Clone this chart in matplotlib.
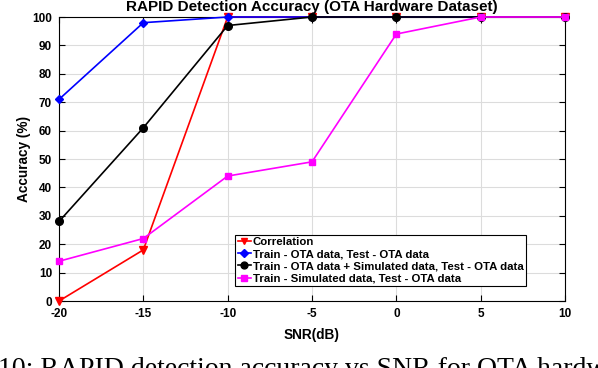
import numpy as np
import matplotlib
matplotlib.use("Agg")
import matplotlib.pyplot as plt

plt.rcParams['font.family'] = ['Liberation Sans', 'DejaVu Sans']
plt.rcParams['font.weight'] = 'bold'
plt.rcParams['axes.unicode_minus'] = False

# Data
snr = [-20, -15, -10, -5, 0, 5, 10]
correlation = [0, 18, 100, 100, 100, 100, 100]
ota_ota = [71, 98, 100, 100, 100, 100, 100]
ota_sim_ota = [28, 61, 97, 100, 100, 100, 100]
sim_ota = [14, 22, 44, 49, 94, 100, 100]

labels = [
    "Correlation",
    "Train - OTA data, Test - OTA data",
    "Train - OTA data + Simulated data, Test - OTA data",
    "Train - Simulated data, Test - OTA data",
]
xticks = [-20, -15, -10, -5, 0, 5, 10]
yticks = [0, 10, 20, 30, 40, 50, 60, 70, 80, 90, 100]

fig = plt.figure(figsize=(5.98, 3.68), dpi=100)
ax = fig.add_axes([59 / 598, 1 - 301 / 368, (565 - 59) / 598, (301 - 17) / 368])

ax.plot(snr, correlation, '-v', color='#ff0000', lw=1.2, ms=5.5, label=labels[0], clip_on=False, zorder=3)
ax.plot(snr, ota_ota, '-D', color='#0000ff', lw=1.2, ms=4.5, label=labels[1], clip_on=False, zorder=3)
ax.plot(snr, ota_sim_ota, '-o', color='black', lw=1.2, ms=5.5, label=labels[2], clip_on=False, zorder=3)
ax.plot(snr, sim_ota, '-s', color='#ff00ff', lw=1.2, ms=5, label=labels[3], clip_on=False, zorder=3)

ax.set_xlim(-20, 10)
ax.set_ylim(0, 100)
ax.set_xticks(xticks)
ax.set_yticks(yticks)
ax.tick_params(direction='in', top=True, right=True, labelsize=8.5, length=4, width=0.8, pad=5)
for lab in ax.get_xticklabels() + ax.get_yticklabels():
    lab.set_fontweight('bold')
ax.grid(True, color='#dcdcdc', lw=0.8)
ax.set_axisbelow(True)
for s in ax.spines.values():
    s.set_linewidth(0.8)

ax.set_title("RAPID Detection Accuracy (OTA Hardware Dataset)", fontsize=11, fontweight='bold', pad=4)
ax.set_xlabel("SNR(dB)", fontsize=9.8, fontweight='bold', labelpad=6)
ax.set_ylabel("Accuracy (%)", fontsize=9.8, fontweight='bold', labelpad=1)

leg = ax.legend(loc='lower right', bbox_to_anchor=((526 - 59) / (565 - 59), (301 - 286) / (301 - 17)),
                fontsize=8.2, frameon=True, fancybox=False, edgecolor='black', framealpha=1,
                borderpad=0.2, labelspacing=0.2, handlelength=1.2, handletextpad=0.15,
                borderaxespad=0, markerscale=0.9)
leg.get_frame().set_linewidth(0.8)
for t in leg.get_texts():
    t.set_fontweight('bold')

fig.text(-0.003, 1 - 357 / 368, "10: RAPID detection accuracy vs SNR for OTA hardware dataset",
         fontsize=20, family=['Liberation Serif', 'DejaVu Serif'], fontweight='normal', va='top', ha='left')

fig.savefig("out.png", dpi=100)
